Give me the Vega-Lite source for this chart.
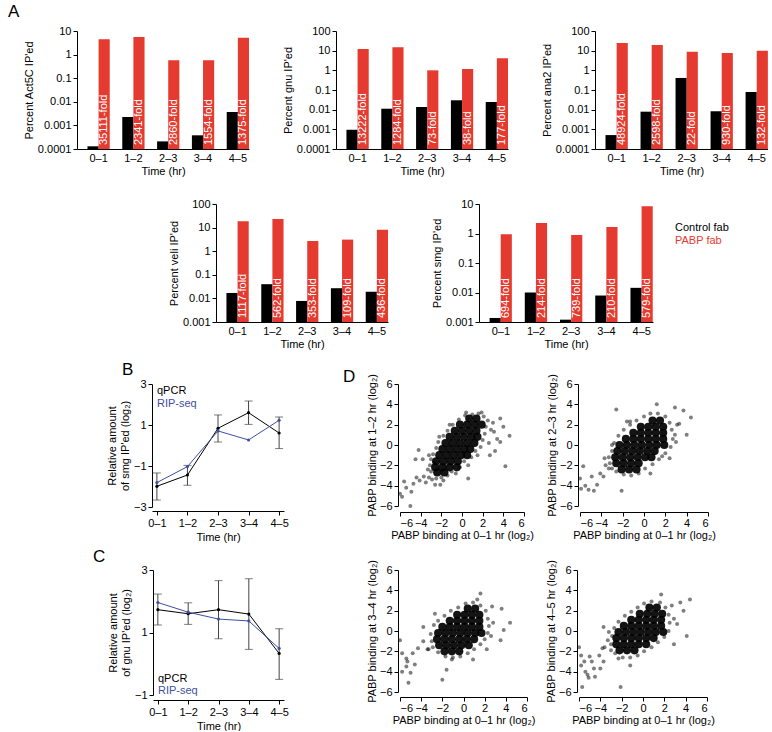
{
"$schema": "https://vega.github.io/schema/vega-lite/v6.json",
"padding": {"left": 8, "top": 3, "right": 0, "bottom": 0},
"config": {
 "view": {"stroke": null},
 "font": "Liberation Sans",
 "axis": {"grid": false, "domainColor": "#000", "tickColor": "#000", "labelColor": "#000", "titleColor": "#000", "labelFontSize": 11, "titleFontSize": 11, "titleFontWeight": "normal", "tickSize": 4, "labelPadding": 2, "titlePadding": 3, "domainWidth": 1, "tickWidth": 1, "labelFont": "Liberation Sans", "titleFont": "Liberation Sans"},
 "title": {"fontSize": 17, "fontWeight": "normal", "anchor": "start", "font": "Liberation Sans", "color": "#000", "frame": "group"},
 "legend": {"labelFont": "Liberation Sans", "labelFontSize": 11}
},
"datasets": {
 "bars": [
  {"gene":"Act5C","time":"0–1","group":"Control fab","value":0.00013,"fold":""},
  {"gene":"Act5C","time":"0–1","group":"PABP fab","value":4.5,"fold":"35111-fold"},
  {"gene":"Act5C","time":"1–2","group":"Control fab","value":0.00227,"fold":""},
  {"gene":"Act5C","time":"1–2","group":"PABP fab","value":5.6,"fold":"2341-fold"},
  {"gene":"Act5C","time":"2–3","group":"Control fab","value":0.00021,"fold":""},
  {"gene":"Act5C","time":"2–3","group":"PABP fab","value":0.58,"fold":"2860-fold"},
  {"gene":"Act5C","time":"3–4","group":"Control fab","value":0.00038,"fold":""},
  {"gene":"Act5C","time":"3–4","group":"PABP fab","value":0.58,"fold":"1554-fold"},
  {"gene":"Act5C","time":"4–5","group":"Control fab","value":0.0037,"fold":""},
  {"gene":"Act5C","time":"4–5","group":"PABP fab","value":5.2,"fold":"1375-fold"},
  {"gene":"gnu","time":"0–1","group":"Control fab","value":0.00095,"fold":""},
  {"gene":"gnu","time":"0–1","group":"PABP fab","value":12.1,"fold":"13222-fold"},
  {"gene":"gnu","time":"1–2","group":"Control fab","value":0.0112,"fold":""},
  {"gene":"gnu","time":"1–2","group":"PABP fab","value":14.8,"fold":"1284-fold"},
  {"gene":"gnu","time":"2–3","group":"Control fab","value":0.0137,"fold":""},
  {"gene":"gnu","time":"2–3","group":"PABP fab","value":1.0,"fold":"73-fold"},
  {"gene":"gnu","time":"3–4","group":"Control fab","value":0.030,"fold":""},
  {"gene":"gnu","time":"3–4","group":"PABP fab","value":1.17,"fold":"38-fold"},
  {"gene":"gnu","time":"4–5","group":"Control fab","value":0.0245,"fold":""},
  {"gene":"gnu","time":"4–5","group":"PABP fab","value":4.1,"fold":"177-fold"},
  {"gene":"ana2","time":"0–1","group":"Control fab","value":0.00051,"fold":""},
  {"gene":"ana2","time":"0–1","group":"PABP fab","value":24.5,"fold":"48924-fold"},
  {"gene":"ana2","time":"1–2","group":"Control fab","value":0.0079,"fold":""},
  {"gene":"ana2","time":"1–2","group":"PABP fab","value":19.5,"fold":"2598-fold"},
  {"gene":"ana2","time":"2–3","group":"Control fab","value":0.41,"fold":""},
  {"gene":"ana2","time":"2–3","group":"PABP fab","value":8.9,"fold":"22-fold"},
  {"gene":"ana2","time":"3–4","group":"Control fab","value":0.0083,"fold":""},
  {"gene":"ana2","time":"3–4","group":"PABP fab","value":7.6,"fold":"930-fold"},
  {"gene":"ana2","time":"4–5","group":"Control fab","value":0.079,"fold":""},
  {"gene":"ana2","time":"4–5","group":"PABP fab","value":10,"fold":"132-fold"},
  {"gene":"veli","time":"0–1","group":"Control fab","value":0.017,"fold":""},
  {"gene":"veli","time":"0–1","group":"PABP fab","value":18.6,"fold":"1117-fold"},
  {"gene":"veli","time":"1–2","group":"Control fab","value":0.040,"fold":""},
  {"gene":"veli","time":"1–2","group":"PABP fab","value":23,"fold":"562-fold"},
  {"gene":"veli","time":"2–3","group":"Control fab","value":0.0078,"fold":""},
  {"gene":"veli","time":"2–3","group":"PABP fab","value":2.7,"fold":"353-fold"},
  {"gene":"veli","time":"3–4","group":"Control fab","value":0.027,"fold":""},
  {"gene":"veli","time":"3–4","group":"PABP fab","value":3.1,"fold":"109-fold"},
  {"gene":"veli","time":"4–5","group":"Control fab","value":0.019,"fold":""},
  {"gene":"veli","time":"4–5","group":"PABP fab","value":8.1,"fold":"436-fold"},
  {"gene":"smg","time":"0–1","group":"Control fab","value":0.00137,"fold":""},
  {"gene":"smg","time":"0–1","group":"PABP fab","value":0.94,"fold":"694-fold"},
  {"gene":"smg","time":"1–2","group":"Control fab","value":0.010,"fold":""},
  {"gene":"smg","time":"1–2","group":"PABP fab","value":2.28,"fold":"214-fold"},
  {"gene":"smg","time":"2–3","group":"Control fab","value":0.0012,"fold":""},
  {"gene":"smg","time":"2–3","group":"PABP fab","value":0.89,"fold":"739-fold"},
  {"gene":"smg","time":"3–4","group":"Control fab","value":0.0079,"fold":""},
  {"gene":"smg","time":"3–4","group":"PABP fab","value":1.66,"fold":"210-fold"},
  {"gene":"smg","time":"4–5","group":"Control fab","value":0.0144,"fold":""},
  {"gene":"smg","time":"4–5","group":"PABP fab","value":8.4,"fold":"579-fold"}
 ],
 "lines": [
  {"panel":"B","method":"qPCR","time":"0–1","mean":-1.99,"lo":-2.66,"hi":-1.34},
  {"panel":"B","method":"qPCR","time":"1–2","mean":-1.44,"lo":-1.94,"hi":-0.97},
  {"panel":"B","method":"qPCR","time":"2–3","mean":0.84,"lo":0.17,"hi":1.49},
  {"panel":"B","method":"qPCR","time":"3–4","mean":1.60,"lo":1.03,"hi":2.17},
  {"panel":"B","method":"qPCR","time":"4–5","mean":0.61,"lo":-0.15,"hi":1.39},
  {"panel":"B","method":"RIP-seq","time":"0–1","mean":-1.81},
  {"panel":"B","method":"RIP-seq","time":"1–2","mean":-1.03},
  {"panel":"B","method":"RIP-seq","time":"2–3","mean":0.71},
  {"panel":"B","method":"RIP-seq","time":"3–4","mean":0.27},
  {"panel":"B","method":"RIP-seq","time":"4–5","mean":1.23},
  {"panel":"C","method":"qPCR","time":"0–1","mean":1.73,"lo":1.24,"hi":2.23},
  {"panel":"C","method":"qPCR","time":"1–2","mean":1.60,"lo":1.26,"hi":1.95},
  {"panel":"C","method":"qPCR","time":"2–3","mean":1.73,"lo":0.80,"hi":2.66},
  {"panel":"C","method":"qPCR","time":"3–4","mean":1.59,"lo":0.46,"hi":2.72},
  {"panel":"C","method":"qPCR","time":"4–5","mean":0.33,"lo":-0.50,"hi":1.12},
  {"panel":"C","method":"RIP-seq","time":"0–1","mean":1.96},
  {"panel":"C","method":"RIP-seq","time":"1–2","mean":1.65},
  {"panel":"C","method":"RIP-seq","time":"2–3","mean":1.43},
  {"panel":"C","method":"RIP-seq","time":"3–4","mean":1.37},
  {"panel":"C","method":"RIP-seq","time":"4–5","mean":0.49}
 ],
 "stats": [
  {"panel":"12","n":"n = 5813","rs":"rₛ = 0.75","p":"p <10⁻¹⁵"},
  {"panel":"23","n":"n = 5813","rs":"rₛ = 0.59","p":"p <10⁻¹⁵"},
  {"panel":"34","n":"n = 5813","rs":"rₛ = 0.44","p":"p <10⁻¹⁵"},
  {"panel":"45","n":"n = 5813","rs":"rₛ = 0.47","p":"p <10⁻¹⁵"}
 ],
 "d12": [
  {"x":0.7,"y":2.6,"k":"c"},{"x":1.4,"y":2.6,"k":"c"},
  {"x":-0.2,"y":2.0,"k":"c"},{"x":0.5,"y":2.0,"k":"c"},{"x":1.2,"y":2.0,"k":"c"},{"x":1.9,"y":2.0,"k":"c"},
  {"x":-0.7,"y":1.4,"k":"c"},{"x":0.0,"y":1.4,"k":"c"},{"x":0.7,"y":1.4,"k":"c"},{"x":1.4,"y":1.4,"k":"c"},
  {"x":-1.2,"y":0.8,"k":"c"},{"x":-0.5,"y":0.8,"k":"c"},{"x":0.2,"y":0.8,"k":"c"},{"x":0.9,"y":0.8,"k":"c"},{"x":1.5,"y":0.8,"k":"c"},
  {"x":-1.6,"y":0.2,"k":"c"},{"x":-0.9,"y":0.2,"k":"c"},{"x":-0.2,"y":0.2,"k":"c"},{"x":0.5,"y":0.2,"k":"c"},{"x":1.2,"y":0.2,"k":"c"},
  {"x":-1.9,"y":-0.4,"k":"c"},{"x":-1.2,"y":-0.4,"k":"c"},{"x":-0.5,"y":-0.4,"k":"c"},{"x":0.2,"y":-0.4,"k":"c"},{"x":0.8,"y":-0.4,"k":"c"},
  {"x":-2.2,"y":-1.0,"k":"c"},{"x":-1.5,"y":-1.0,"k":"c"},{"x":-0.8,"y":-1.0,"k":"c"},{"x":-0.1,"y":-1.0,"k":"c"},{"x":0.5,"y":-1.0,"k":"c"},
  {"x":-2.5,"y":-1.6,"k":"c"},{"x":-1.8,"y":-1.6,"k":"c"},{"x":-1.1,"y":-1.6,"k":"c"},{"x":-0.4,"y":-1.6,"k":"c"},
  {"x":-2.6,"y":-2.2,"k":"c"},{"x":-1.9,"y":-2.2,"k":"c"},{"x":-1.2,"y":-2.2,"k":"c"},{"x":-0.5,"y":-2.2,"k":"c"},
  {"x":-2.4,"y":-2.7,"k":"c"},{"x":-1.7,"y":-2.7,"k":"c"},
  {"x":-3.1,"y":-2.0,"k":"s"},{"x":-3.0,"y":-2.6,"k":"s"},{"x":-3.2,"y":-3.2,"k":"s"},{"x":-2.9,"y":-3.4,"k":"s"},{"x":-2.5,"y":-3.3,"k":"s"},
  {"x":-2.0,"y":-3.2,"k":"s"},{"x":-1.4,"y":-3.0,"k":"s"},{"x":-1.0,"y":-2.6,"k":"s"},{"x":-0.2,"y":-2.2,"k":"s"},{"x":0.2,"y":-1.6,"k":"s"},
  {"x":0.9,"y":-1.2,"k":"s"},{"x":1.3,"y":-0.6,"k":"s"},{"x":1.8,"y":-0.2,"k":"s"},{"x":2.0,"y":0.5,"k":"s"},{"x":2.2,"y":1.1,"k":"s"},
  {"x":2.3,"y":1.8,"k":"s"},{"x":2.5,"y":2.4,"k":"s"},{"x":2.1,"y":2.8,"k":"s"},{"x":1.6,"y":3.1,"k":"s"},{"x":1.0,"y":3.0,"k":"s"},
  {"x":0.3,"y":2.9,"k":"s"},{"x":-0.3,"y":2.5,"k":"s"},{"x":-0.9,"y":2.0,"k":"s"},{"x":-1.4,"y":1.4,"k":"s"},{"x":-1.8,"y":0.9,"k":"s"},
  {"x":-2.3,"y":0.3,"k":"s"},{"x":-2.5,"y":-0.3,"k":"s"},{"x":-2.8,"y":-0.9,"k":"s"},{"x":-3.0,"y":-1.4,"k":"s"},{"x":-2.2,"y":0.8,"k":"s"},
  {"x":-1.2,"y":2.0,"k":"s"},{"x":0.4,"y":3.2,"k":"s"},{"x":2.8,"y":1.5,"k":"s"},{"x":2.6,"y":0.2,"k":"s"},{"x":1.5,"y":-1.0,"k":"s"},
  {"x":0.6,"y":-2.0,"k":"s"},{"x":-0.6,"y":-2.8,"k":"s"},{"x":-1.8,"y":-3.5,"k":"s"},{"x":-2.7,"y":-1.7,"k":"s"},{"x":3.0,"y":2.2,"k":"s"},
  {"x":-6.0,"y":-4.8,"k":"s"},{"x":-5.8,"y":-5.1,"k":"s"},{"x":-5.0,"y":-6.0,"k":"s"},{"x":-5.4,"y":-4.2,"k":"s"},{"x":-4.7,"y":-3.8,"k":"s"},
  {"x":-4.4,"y":-3.2,"k":"s"},{"x":-4.2,"y":-0.5,"k":"s"},{"x":-4.5,"y":-1.4,"k":"s"},{"x":-3.8,"y":-1.4,"k":"s"},{"x":-4.1,"y":-3.5,"k":"s"},
  {"x":-3.7,"y":-3.1,"k":"s"},{"x":-3.5,"y":-3.7,"k":"s"},{"x":-3.3,"y":-2.4,"k":"s"},{"x":-2.6,"y":-3.9,"k":"s"},{"x":-2.1,"y":-3.9,"k":"s"},
  {"x":0.6,"y":-3.3,"k":"s"},{"x":4.2,"y":-2.1,"k":"s"},{"x":4.6,"y":0.9,"k":"s"},{"x":4.0,"y":1.8,"k":"s"},{"x":3.7,"y":2.6,"k":"s"},
  {"x":1.9,"y":3.2,"k":"s"},{"x":3.4,"y":0.6,"k":"s"},{"x":3.2,"y":-0.6,"k":"s"},{"x":3.7,"y":0.3,"k":"s"},{"x":2.7,"y":-1.0,"k":"s"},
  {"x":3.1,"y":1.3,"k":"s"},{"x":-5.6,"y":-3.6,"k":"s"},{"x":-4.9,"y":-4.6,"k":"s"},{"x":-3.2,"y":-1.0,"k":"s"}
 ],
 "d23": [
  {"x":0.8,"y":2.4,"k":"c"},{"x":1.5,"y":2.4,"k":"c"},
  {"x":-0.3,"y":1.8,"k":"c"},{"x":0.4,"y":1.8,"k":"c"},{"x":1.1,"y":1.8,"k":"c"},{"x":1.8,"y":1.8,"k":"c"},
  {"x":-1.0,"y":1.2,"k":"c"},{"x":-0.3,"y":1.2,"k":"c"},{"x":0.4,"y":1.2,"k":"c"},{"x":1.1,"y":1.2,"k":"c"},{"x":1.8,"y":1.2,"k":"c"},
  {"x":-1.7,"y":0.6,"k":"c"},{"x":-1.0,"y":0.6,"k":"c"},{"x":-0.3,"y":0.6,"k":"c"},{"x":0.4,"y":0.6,"k":"c"},{"x":1.1,"y":0.6,"k":"c"},{"x":1.8,"y":0.6,"k":"c"},
  {"x":-2.3,"y":0.0,"k":"c"},{"x":-1.6,"y":0.0,"k":"c"},{"x":-0.9,"y":0.0,"k":"c"},{"x":-0.2,"y":0.0,"k":"c"},{"x":0.5,"y":0.0,"k":"c"},{"x":1.2,"y":0.0,"k":"c"},{"x":1.9,"y":0.0,"k":"c"},
  {"x":-2.5,"y":-0.6,"k":"c"},{"x":-1.8,"y":-0.6,"k":"c"},{"x":-1.1,"y":-0.6,"k":"c"},{"x":-0.4,"y":-0.6,"k":"c"},{"x":0.3,"y":-0.6,"k":"c"},{"x":1.0,"y":-0.6,"k":"c"},
  {"x":-2.7,"y":-1.2,"k":"c"},{"x":-2.0,"y":-1.2,"k":"c"},{"x":-1.3,"y":-1.2,"k":"c"},{"x":-0.6,"y":-1.2,"k":"c"},{"x":0.1,"y":-1.2,"k":"c"},{"x":0.7,"y":-1.2,"k":"c"},
  {"x":-2.6,"y":-1.8,"k":"c"},{"x":-1.9,"y":-1.8,"k":"c"},{"x":-1.2,"y":-1.8,"k":"c"},{"x":-0.5,"y":-1.8,"k":"c"},
  {"x":-2.1,"y":-2.4,"k":"c"},{"x":-1.4,"y":-2.4,"k":"c"},{"x":-0.7,"y":-2.4,"k":"c"},
  {"x":-3.2,"y":-1.8,"k":"s"},{"x":-3.3,"y":-1.2,"k":"s"},{"x":-3.0,"y":-0.6,"k":"s"},{"x":-2.8,"y":0.2,"k":"s"},{"x":-2.4,"y":0.9,"k":"s"},
  {"x":-1.9,"y":1.5,"k":"s"},{"x":-1.3,"y":2.0,"k":"s"},{"x":-0.7,"y":2.4,"k":"s"},{"x":0.0,"y":2.8,"k":"s"},{"x":0.6,"y":3.1,"k":"s"},
  {"x":1.3,"y":3.1,"k":"s"},{"x":2.0,"y":2.8,"k":"s"},{"x":2.4,"y":2.2,"k":"s"},{"x":2.6,"y":1.5,"k":"s"},{"x":2.7,"y":0.6,"k":"s"},
  {"x":2.5,"y":-0.2,"k":"s"},{"x":2.0,"y":-0.8,"k":"s"},{"x":1.4,"y":-1.4,"k":"s"},{"x":0.8,"y":-1.9,"k":"s"},{"x":0.1,"y":-2.3,"k":"s"},
  {"x":-0.5,"y":-2.8,"k":"s"},{"x":-1.2,"y":-3.0,"k":"s"},{"x":-1.9,"y":-2.9,"k":"s"},{"x":-2.6,"y":-2.6,"k":"s"},{"x":-3.0,"y":-2.3,"k":"s"},
  {"x":2.9,"y":1.0,"k":"s"},{"x":-1.6,"y":2.3,"k":"s"},{"x":3.1,"y":2.0,"k":"s"},{"x":-3.6,"y":-2.0,"k":"s"},{"x":1.7,"y":-1.1,"k":"s"},
  {"x":-6.0,"y":-3.3,"k":"s"},{"x":-5.7,"y":-2.1,"k":"s"},{"x":-5.5,"y":-4.0,"k":"s"},{"x":-5.2,"y":-4.4,"k":"s"},{"x":-4.7,"y":-4.5,"k":"s"},
  {"x":-4.9,"y":-3.1,"k":"s"},{"x":-4.4,"y":-3.9,"k":"s"},{"x":-4.1,"y":-2.8,"k":"s"},{"x":-3.8,"y":-3.1,"k":"s"},{"x":-3.3,"y":-2.3,"k":"s"},
  {"x":-3.7,"y":-1.3,"k":"s"},{"x":-3.0,"y":0.0,"k":"s"},{"x":-2.6,"y":3.5,"k":"s"},{"x":-2.1,"y":-4.5,"k":"s"},{"x":-1.3,"y":2.3,"k":"s"},
  {"x":1.2,"y":4.0,"k":"s"},{"x":2.9,"y":3.7,"k":"s"},{"x":3.7,"y":3.4,"k":"s"},{"x":4.4,"y":2.7,"k":"s"},{"x":4.0,"y":1.0,"k":"s"},
  {"x":3.3,"y":2.1,"k":"s"},{"x":2.4,"y":-1.3,"k":"s"},{"x":0.6,"y":-2.8,"k":"s"},{"x":3.0,"y":0.3,"k":"s"},{"x":-5.9,"y":-4.3,"k":"s"}
 ],
 "d34": [
  {"x":0.4,"y":2.2,"k":"c"},{"x":1.1,"y":2.2,"k":"c"},
  {"x":-0.6,"y":1.6,"k":"c"},{"x":0.1,"y":1.6,"k":"c"},{"x":0.8,"y":1.6,"k":"c"},{"x":1.5,"y":1.6,"k":"c"},
  {"x":-1.3,"y":1.0,"k":"c"},{"x":-0.6,"y":1.0,"k":"c"},{"x":0.1,"y":1.0,"k":"c"},{"x":0.8,"y":1.0,"k":"c"},{"x":1.5,"y":1.0,"k":"c"},
  {"x":-2.0,"y":0.4,"k":"c"},{"x":-1.3,"y":0.4,"k":"c"},{"x":-0.6,"y":0.4,"k":"c"},{"x":0.1,"y":0.4,"k":"c"},{"x":0.8,"y":0.4,"k":"c"},{"x":1.5,"y":0.4,"k":"c"},
  {"x":-2.4,"y":-0.2,"k":"c"},{"x":-1.7,"y":-0.2,"k":"c"},{"x":-1.0,"y":-0.2,"k":"c"},{"x":-0.3,"y":-0.2,"k":"c"},{"x":0.4,"y":-0.2,"k":"c"},{"x":1.1,"y":-0.2,"k":"c"},{"x":1.7,"y":-0.2,"k":"c"},
  {"x":-2.5,"y":-0.8,"k":"c"},{"x":-1.8,"y":-0.8,"k":"c"},{"x":-1.1,"y":-0.8,"k":"c"},{"x":-0.4,"y":-0.8,"k":"c"},{"x":0.3,"y":-0.8,"k":"c"},{"x":1.0,"y":-0.8,"k":"c"},
  {"x":-2.3,"y":-1.4,"k":"c"},{"x":-1.6,"y":-1.4,"k":"c"},{"x":-0.9,"y":-1.4,"k":"c"},{"x":-0.2,"y":-1.4,"k":"c"},{"x":0.5,"y":-1.4,"k":"c"},
  {"x":-1.8,"y":-2.0,"k":"c"},{"x":-1.1,"y":-2.0,"k":"c"},{"x":-0.4,"y":-2.0,"k":"c"},
  {"x":-3.0,"y":-1.0,"k":"s"},{"x":-3.1,"y":-0.3,"k":"s"},{"x":-2.8,"y":0.6,"k":"s"},{"x":-2.4,"y":1.0,"k":"s"},{"x":-1.8,"y":1.5,"k":"s"},
  {"x":-1.2,"y":2.0,"k":"s"},{"x":-0.5,"y":2.3,"k":"s"},{"x":0.2,"y":2.7,"k":"s"},{"x":0.9,"y":2.8,"k":"s"},{"x":1.6,"y":2.5,"k":"s"},
  {"x":2.1,"y":2.0,"k":"s"},{"x":2.3,"y":1.2,"k":"s"},{"x":2.4,"y":0.5,"k":"s"},{"x":2.3,"y":-0.2,"k":"s"},{"x":2.0,"y":-0.8,"k":"s"},
  {"x":1.6,"y":-1.3,"k":"s"},{"x":1.0,"y":-1.8,"k":"s"},{"x":0.4,"y":-2.2,"k":"s"},{"x":-0.3,"y":-2.5,"k":"s"},{"x":-1.0,"y":-2.6,"k":"s"},
  {"x":-1.7,"y":-2.5,"k":"s"},{"x":-2.4,"y":-2.1,"k":"s"},{"x":-2.9,"y":-1.6,"k":"s"},{"x":2.8,"y":0.8,"k":"s"},{"x":-3.4,"y":-1.8,"k":"s"},
  {"x":1.3,"y":3.1,"k":"s"},{"x":2.6,"y":-0.5,"k":"s"},
  {"x":-6.0,"y":-0.9,"k":"s"},{"x":-5.8,"y":-2.2,"k":"s"},{"x":-5.4,"y":-2.7,"k":"s"},{"x":-5.4,"y":-3.5,"k":"s"},{"x":-5.3,"y":-3.0,"k":"s"},
  {"x":-5.8,"y":-4.0,"k":"s"},{"x":-5.2,"y":-5.1,"k":"s"},{"x":-5.0,"y":-4.1,"k":"s"},{"x":-4.6,"y":-3.3,"k":"s"},{"x":-4.3,"y":-1.7,"k":"s"},
  {"x":-3.8,"y":0.4,"k":"s"},{"x":-3.8,"y":-1.0,"k":"s"},{"x":-3.3,"y":-1.8,"k":"s"},{"x":-2.7,"y":1.7,"k":"s"},{"x":-2.0,"y":-4.8,"k":"s"},
  {"x":-1.1,"y":-2.8,"k":"s"},{"x":0.9,"y":-2.8,"k":"s"},{"x":1.6,"y":3.7,"k":"s"},{"x":2.7,"y":2.4,"k":"s"},{"x":3.6,"y":2.2,"k":"s"},
  {"x":4.4,"y":0.8,"k":"s"},{"x":3.5,"y":-0.9,"k":"s"},{"x":2.2,"y":-1.8,"k":"s"},{"x":3.8,"y":0.1,"k":"s"},{"x":-1.6,"y":-3.8,"k":"s"},
  {"x":-4.8,"y":-2.2,"k":"s"}
 ],
 "d45": [
  {"x":0.6,"y":2.3,"k":"c"},{"x":1.3,"y":2.3,"k":"c"},
  {"x":-0.3,"y":1.7,"k":"c"},{"x":0.4,"y":1.7,"k":"c"},{"x":1.1,"y":1.7,"k":"c"},{"x":1.8,"y":1.7,"k":"c"},
  {"x":-1.1,"y":1.1,"k":"c"},{"x":-0.4,"y":1.1,"k":"c"},{"x":0.3,"y":1.1,"k":"c"},{"x":1.0,"y":1.1,"k":"c"},{"x":1.7,"y":1.1,"k":"c"},
  {"x":-1.8,"y":0.5,"k":"c"},{"x":-1.1,"y":0.5,"k":"c"},{"x":-0.4,"y":0.5,"k":"c"},{"x":0.3,"y":0.5,"k":"c"},{"x":1.0,"y":0.5,"k":"c"},{"x":1.7,"y":0.5,"k":"c"},
  {"x":-2.3,"y":-0.1,"k":"c"},{"x":-1.6,"y":-0.1,"k":"c"},{"x":-0.9,"y":-0.1,"k":"c"},{"x":-0.2,"y":-0.1,"k":"c"},{"x":0.5,"y":-0.1,"k":"c"},{"x":1.2,"y":-0.1,"k":"c"},{"x":1.9,"y":-0.1,"k":"c"},
  {"x":-2.5,"y":-0.7,"k":"c"},{"x":-1.8,"y":-0.7,"k":"c"},{"x":-1.1,"y":-0.7,"k":"c"},{"x":-0.4,"y":-0.7,"k":"c"},{"x":0.3,"y":-0.7,"k":"c"},{"x":1.0,"y":-0.7,"k":"c"},
  {"x":-2.5,"y":-1.3,"k":"c"},{"x":-1.8,"y":-1.3,"k":"c"},{"x":-1.1,"y":-1.3,"k":"c"},{"x":-0.4,"y":-1.3,"k":"c"},{"x":0.3,"y":-1.3,"k":"c"},
  {"x":-2.2,"y":-1.9,"k":"c"},{"x":-1.5,"y":-1.9,"k":"c"},{"x":-0.8,"y":-1.9,"k":"c"},
  {"x":-3.0,"y":-1.3,"k":"s"},{"x":-2.9,"y":-0.5,"k":"s"},{"x":-2.7,"y":0.3,"k":"s"},{"x":-2.3,"y":0.9,"k":"s"},{"x":-1.7,"y":1.5,"k":"s"},
  {"x":-1.1,"y":1.9,"k":"s"},{"x":-0.5,"y":2.3,"k":"s"},{"x":0.1,"y":2.7,"k":"s"},{"x":0.8,"y":2.9,"k":"s"},{"x":1.6,"y":2.8,"k":"s"},
  {"x":2.1,"y":2.3,"k":"s"},{"x":2.4,"y":1.6,"k":"s"},{"x":2.5,"y":0.8,"k":"s"},{"x":2.4,"y":0.0,"k":"s"},{"x":2.0,"y":-0.6,"k":"s"},
  {"x":1.4,"y":-1.1,"k":"s"},{"x":0.8,"y":-1.6,"k":"s"},{"x":0.1,"y":-2.0,"k":"s"},{"x":-0.5,"y":-2.4,"k":"s"},{"x":-1.2,"y":-2.6,"k":"s"},
  {"x":-1.9,"y":-2.6,"k":"s"},{"x":-2.6,"y":-2.2,"k":"s"},{"x":-3.0,"y":-1.9,"k":"s"},{"x":2.9,"y":1.2,"k":"s"},{"x":-3.3,"y":-0.9,"k":"s"},
  {"x":2.7,"y":2.5,"k":"s"},{"x":-3.6,"y":-1.6,"k":"s"},
  {"x":-6.0,"y":-1.6,"k":"s"},{"x":-5.8,"y":-2.4,"k":"s"},{"x":-5.8,"y":-3.4,"k":"s"},{"x":-5.7,"y":-5.5,"k":"s"},{"x":-5.4,"y":-4.0,"k":"s"},
  {"x":-5.2,"y":-4.3,"k":"s"},{"x":-5.1,"y":-4.6,"k":"s"},{"x":-5.0,"y":-2.5,"k":"s"},{"x":-4.8,"y":-3.0,"k":"s"},{"x":-4.6,"y":-3.7,"k":"s"},
  {"x":-4.5,"y":-4.5,"k":"s"},{"x":-4.1,"y":-2.4,"k":"s"},{"x":-4.0,"y":-3.7,"k":"s"},{"x":-3.7,"y":-3.0,"k":"s"},{"x":-3.8,"y":-1.7,"k":"s"},
  {"x":-3.7,"y":0.4,"k":"s"},{"x":-3.2,"y":-0.1,"k":"s"},{"x":-2.3,"y":-2.7,"k":"s"},{"x":-2.1,"y":-5.5,"k":"s"},{"x":-1.2,"y":-3.4,"k":"s"},
  {"x":1.7,"y":3.6,"k":"s"},{"x":3.5,"y":2.8,"k":"s"},{"x":4.4,"y":3.1,"k":"s"},{"x":3.8,"y":2.0,"k":"s"},{"x":4.1,"y":-0.5,"k":"s"},
  {"x":3.2,"y":0.7,"k":"s"},{"x":2.9,"y":-1.3,"k":"s"},{"x":-5.5,"y":-3.0,"k":"s"}
 ]
},
"resolve": {"scale": {"color": "independent"}, "legend": {"color": "independent"}},
"spacing": 22,
"vconcat": [
 {
  "hconcat": [
   {
    "width": 172, "height": 118,
    "title": {"text": "A", "dx": -69},
    "data": {"name": "bars"},
    "transform": [{"filter": "datum.gene === 'Act5C'"}],
    "encoding": {
     "x": {"field": "time", "type": "nominal", "sort": ["0–1","1–2","2–3","3–4","4–5"], "scale": {"paddingInner": 0.36, "paddingOuter": 0.15, "align": 1}, "axis": {"title": "Time (hr)", "labelAngle": 0, "ticks": false, "labelPadding": 3, "titlePadding": 2}},
     "xOffset": {"field": "group", "type": "nominal", "sort": ["Control fab", "PABP fab"]}
    },
    "layer": [
     {"mark": {"type": "bar"}, "encoding": {
       "y": {"field": "value", "type": "quantitative", "scale": {"type": "log", "domain": [0.0001, 10], "nice": false}, "axis": {"title": "Percent Act5C IP'ed", "values": [0.0001, 0.001, 0.01, 0.1, 1, 10], "format": "~g"}},
       "y2": {"datum": 0.0001},
       "color": {"field": "group", "type": "nominal", "scale": {"domain": ["Control fab", "PABP fab"], "range": ["#000000", "#e53a2f"]}, "legend": null}}},
     {"transform": [{"filter": "datum.group === 'PABP fab'"}], "mark": {"type": "text", "angle": 270, "align": "left", "baseline": "middle", "dx": 4, "color": "#ffffff", "fontSize": 11}, "encoding": {"y": {"datum": 0.0001}, "text": {"field": "fold", "type": "nominal"}}}
    ]
   },
   {
    "width": 172, "height": 118,
    "data": {"name": "bars"},
    "transform": [{"filter": "datum.gene === 'gnu'"}],
    "encoding": {
     "x": {"field": "time", "type": "nominal", "sort": ["0–1","1–2","2–3","3–4","4–5"], "scale": {"paddingInner": 0.36, "paddingOuter": 0.15, "align": 1}, "axis": {"title": "Time (hr)", "labelAngle": 0, "ticks": false, "labelPadding": 3, "titlePadding": 2}},
     "xOffset": {"field": "group", "type": "nominal", "sort": ["Control fab", "PABP fab"]}
    },
    "layer": [
     {"mark": {"type": "bar"}, "encoding": {
       "y": {"field": "value", "type": "quantitative", "scale": {"type": "log", "domain": [0.0001, 100], "nice": false}, "axis": {"title": "Percent gnu IP'ed", "values": [0.0001, 0.001, 0.01, 0.1, 1, 10, 100], "format": "~g"}},
       "y2": {"datum": 0.0001},
       "color": {"field": "group", "type": "nominal", "scale": {"domain": ["Control fab", "PABP fab"], "range": ["#000000", "#e53a2f"]}, "legend": null}}},
     {"transform": [{"filter": "datum.group === 'PABP fab'"}], "mark": {"type": "text", "angle": 270, "align": "left", "baseline": "middle", "dx": 4, "color": "#ffffff", "fontSize": 11}, "encoding": {"y": {"datum": 0.0001}, "text": {"field": "fold", "type": "nominal"}}}
    ]
   },
   {
    "width": 173, "height": 118,
    "data": {"name": "bars"},
    "transform": [{"filter": "datum.gene === 'ana2'"}],
    "encoding": {
     "x": {"field": "time", "type": "nominal", "sort": ["0–1","1–2","2–3","3–4","4–5"], "scale": {"paddingInner": 0.36, "paddingOuter": 0.15, "align": 1}, "axis": {"title": "Time (hr)", "labelAngle": 0, "ticks": false, "labelPadding": 3, "titlePadding": 2}},
     "xOffset": {"field": "group", "type": "nominal", "sort": ["Control fab", "PABP fab"]}
    },
    "layer": [
     {"mark": {"type": "bar"}, "encoding": {
       "y": {"field": "value", "type": "quantitative", "scale": {"type": "log", "domain": [0.0001, 100], "nice": false}, "axis": {"title": "Percent ana2 IP'ed", "values": [0.0001, 0.001, 0.01, 0.1, 1, 10, 100], "format": "~g"}},
       "y2": {"datum": 0.0001},
       "color": {"field": "group", "type": "nominal", "scale": {"domain": ["Control fab", "PABP fab"], "range": ["#000000", "#e53a2f"]}, "legend": null}}},
     {"transform": [{"filter": "datum.group === 'PABP fab'"}], "mark": {"type": "text", "angle": 270, "align": "left", "baseline": "middle", "dx": 4, "color": "#ffffff", "fontSize": 11}, "encoding": {"y": {"datum": 0.0001}, "text": {"field": "fold", "type": "nominal"}}}
    ]
   }
  ],
  "spacing": 87, "bounds": "flush",
  "resolve": {"scale": {"color": "independent"}, "legend": {"color": "independent"}}
 },
 {
  "vconcat": [
   {
    "hconcat": [
     {"width": 48, "height": 1, "data": {"values": []}, "mark": "point"},
     {
      "width": 172, "height": 118,
      "data": {"name": "bars"},
      "transform": [{"filter": "datum.gene === 'veli'"}],
      "encoding": {
       "x": {"field": "time", "type": "nominal", "sort": ["0–1","1–2","2–3","3–4","4–5"], "scale": {"paddingInner": 0.36, "paddingOuter": 0.15, "align": 1}, "axis": {"title": "Time (hr)", "labelAngle": 0, "ticks": false, "labelPadding": 3, "titlePadding": 2}},
       "xOffset": {"field": "group", "type": "nominal", "sort": ["Control fab", "PABP fab"]}
      },
      "layer": [
       {"mark": {"type": "bar"}, "encoding": {
         "y": {"field": "value", "type": "quantitative", "scale": {"type": "log", "domain": [0.001, 100], "nice": false}, "axis": {"title": "Percent veli IP'ed", "values": [0.001, 0.01, 0.1, 1, 10, 100], "format": "~g"}},
         "y2": {"datum": 0.001},
         "color": {"field": "group", "type": "nominal", "scale": {"domain": ["Control fab", "PABP fab"], "range": ["#000000", "#e53a2f"]}, "legend": null}}},
       {"transform": [{"filter": "datum.group === 'PABP fab'"}], "mark": {"type": "text", "angle": 270, "align": "left", "baseline": "middle", "dx": 4, "color": "#ffffff", "fontSize": 11}, "encoding": {"y": {"datum": 0.001}, "text": {"field": "fold", "type": "nominal"}}}
      ]
     },
     {
      "width": 174, "height": 118,
      "data": {"name": "bars"},
      "transform": [{"filter": "datum.gene === 'smg'"}],
      "encoding": {
       "x": {"field": "time", "type": "nominal", "sort": ["0–1","1–2","2–3","3–4","4–5"], "scale": {"paddingInner": 0.36, "paddingOuter": 0.15, "align": 1}, "axis": {"title": "Time (hr)", "labelAngle": 0, "ticks": false, "labelPadding": 3, "titlePadding": 2}},
       "xOffset": {"field": "group", "type": "nominal", "sort": ["Control fab", "PABP fab"]}
      },
      "layer": [
       {"mark": {"type": "bar"}, "encoding": {
         "y": {"field": "value", "type": "quantitative", "scale": {"type": "log", "domain": [0.001, 10], "nice": false}, "axis": {"title": "Percent smg IP'ed", "values": [0.001, 0.01, 0.1, 1, 10], "format": "~g"}},
         "y2": {"datum": 0.001},
         "color": {"field": "group", "type": "nominal", "scale": {"domain": ["Control fab", "PABP fab"], "range": ["#000000", "#e53a2f"]},
           "legend": {"title": null, "orient": "none", "legendX": 185, "legendY": 18, "padding": 0, "symbolSize": 0, "symbolStrokeWidth": 0, "symbolOpacity": 0, "labelOffset": 0, "labelFontSize": 11, "rowPadding": 1,
             "encode": {"labels": {"update": {"fill": {"signal": "datum.value === 'PABP fab' ? '#e53a2f' : '#000000'"}}}}}}}},
       {"transform": [{"filter": "datum.group === 'PABP fab'"}], "mark": {"type": "text", "angle": 270, "align": "left", "baseline": "middle", "dx": 4, "color": "#ffffff", "fontSize": 11}, "encoding": {"y": {"datum": 0.001}, "text": {"field": "fold", "type": "nominal"}}}
      ]
     }
    ],
    "spacing": 91, "bounds": "flush",
    "resolve": {"scale": {"color": "independent"}, "legend": {"color": "independent"}}
   },
   {
    "vconcat": [
     {
      "hconcat": [
       {"width": 19, "height": 1, "title": {"text": "B", "dx": 45, "offset": 5}, "data": {"values": []}, "mark": "point"},
       {
        "width": 132, "height": 123,
        "data": {"name": "lines"},
        "transform": [{"filter": "datum.panel === 'B'"}],
        "encoding": {"x": {"field": "time", "type": "ordinal", "sort": ["0–1","1–2","2–3","3–4","4–5"], "scale": {"type": "point", "padding": 0.16}, "axis": {"title": "Time (hr)", "labelAngle": 0, "offset": 4, "titlePadding": 3}}},
        "layer": [
         {"transform": [{"filter": "datum.method === 'qPCR'"}], "mark": {"type": "rule", "color": "#444444", "strokeWidth": 1}, "encoding": {"y": {"field": "lo", "type": "quantitative", "scale": {"domain": [-3, 3], "nice": false}, "title": ["Relative amount", "of smg IP'ed (log₂)"]}, "y2": {"field": "hi"}}},
         {"transform": [{"filter": "datum.method === 'qPCR'"}], "mark": {"type": "tick", "color": "#444444", "size": 8, "thickness": 1}, "encoding": {"y": {"field": "lo", "type": "quantitative", "scale": {"domain": [-3, 3], "nice": false}, "title": ["Relative amount", "of smg IP'ed (log₂)"]}}},
         {"transform": [{"filter": "datum.method === 'qPCR'"}], "mark": {"type": "tick", "color": "#444444", "size": 8, "thickness": 1}, "encoding": {"y": {"field": "hi", "type": "quantitative", "scale": {"domain": [-3, 3], "nice": false}, "title": ["Relative amount", "of smg IP'ed (log₂)"]}}},
         {"mark": {"type": "line", "strokeWidth": 1, "point": {"filled": true, "size": 10}}, "encoding": {
           "y": {"field": "mean", "type": "quantitative", "scale": {"domain": [-3, 3], "nice": false}, "title": ["Relative amount", "of smg IP'ed (log₂)"], "axis": {"values": [-3, -2, -1, 0, 1, 2, 3], "titlePadding": 3}},
           "color": {"field": "method", "type": "nominal", "scale": {"domain": ["qPCR", "RIP-seq"], "range": ["#000000", "#3d4f9f"]},
             "legend": {"title": null, "orient": "none", "legendX": -6, "legendY": 1, "padding": 0, "symbolSize": 0, "symbolStrokeWidth": 0, "symbolOpacity": 0, "labelOffset": 0, "labelFontSize": 11, "rowPadding": 1,
               "encode": {"labels": {"update": {"fill": {"signal": "datum.value === 'RIP-seq' ? '#3d4f9f' : '#000000'"}}}}}}}}
        ]
       },
       {"width": 4, "height": 1, "data": {"values": []}, "mark": "point"},
       {
        "width": 124, "height": 122,
        "title": {"text": "D", "dx": -57, "offset": -12},
        "data": {"name": "d12"},
        "encoding": {
         "x": {"field": "x", "type": "quantitative", "scale": {"domain": [-6, 6], "nice": false}, "axis": {"title": "PABP binding at 0–1 hr (log₂)", "values": [-6, -4, -2, 0, 2, 4, 6], "offset": 6, "labelPadding": 1, "titlePadding": 1}},
         "y": {"field": "y", "type": "quantitative", "scale": {"domain": [-6, 6], "nice": false}, "axis": {"title": "PABP binding at 1–2 hr (log₂)", "values": [-6, -4, -2, 0, 2, 4, 6], "offset": 2, "titlePadding": 2}}
        },
        "layer": [
         {"transform": [{"filter": "datum.k === 's'"}], "mark": {"type": "circle", "size": 16, "opacity": 0.5, "color": "#000000"}},
         {"transform": [{"filter": "datum.k === 'c'"}], "mark": {"type": "circle", "size": 66, "opacity": 0.92, "color": "#000000"}},
         {"data": {"name": "stats"}, "transform": [{"filter": "datum.panel === '12'"}], "mark": {"type": "text", "align": "right", "fontSize": 11}, "encoding": {"x": {"datum": 6.2}, "y": {"datum": -3.25}, "text": {"field": "n"}}},
         {"data": {"name": "stats"}, "transform": [{"filter": "datum.panel === '12'"}], "mark": {"type": "text", "align": "right", "fontSize": 11}, "encoding": {"x": {"datum": 6.2}, "y": {"datum": -4.45}, "text": {"field": "rs"}}},
         {"data": {"name": "stats"}, "transform": [{"filter": "datum.panel === '12'"}], "mark": {"type": "text", "align": "right", "fontSize": 11}, "encoding": {"x": {"datum": 6.2}, "y": {"datum": -5.65}, "text": {"field": "p"}}}
        ]
       },
       {
        "width": 128, "height": 122,
        "data": {"name": "d23"},
        "encoding": {
         "x": {"field": "x", "type": "quantitative", "scale": {"domain": [-6, 6], "nice": false}, "axis": {"title": "PABP binding at 0–1 hr (log₂)", "values": [-6, -4, -2, 0, 2, 4, 6], "offset": 6, "labelPadding": 1, "titlePadding": 1}},
         "y": {"field": "y", "type": "quantitative", "scale": {"domain": [-6, 6], "nice": false}, "axis": {"title": "PABP binding at 2–3 hr (log₂)", "values": [-6, -4, -2, 0, 2, 4, 6], "offset": 2, "titlePadding": 2}}
        },
        "layer": [
         {"transform": [{"filter": "datum.k === 's'"}], "mark": {"type": "circle", "size": 16, "opacity": 0.5, "color": "#000000"}},
         {"transform": [{"filter": "datum.k === 'c'"}], "mark": {"type": "circle", "size": 66, "opacity": 0.92, "color": "#000000"}},
         {"data": {"name": "stats"}, "transform": [{"filter": "datum.panel === '23'"}], "mark": {"type": "text", "align": "right", "fontSize": 11}, "encoding": {"x": {"datum": 6.1}, "y": {"datum": -3.25}, "text": {"field": "n"}}},
         {"data": {"name": "stats"}, "transform": [{"filter": "datum.panel === '23'"}], "mark": {"type": "text", "align": "right", "fontSize": 11}, "encoding": {"x": {"datum": 6.1}, "y": {"datum": -4.45}, "text": {"field": "rs"}}},
         {"data": {"name": "stats"}, "transform": [{"filter": "datum.panel === '23'"}], "mark": {"type": "text", "align": "right", "fontSize": 11}, "encoding": {"x": {"datum": 6.1}, "y": {"datum": -5.65}, "text": {"field": "p"}}}
        ]
       }
      ],
      "spacing": 56, "bounds": "flush",
      "resolve": {"scale": {"color": "independent"}, "legend": {"color": "independent"}}
     },
     {
      "hconcat": [
       {"width": 24, "height": 1, "data": {"values": []}, "mark": "point"},
       {
        "width": 131, "height": 125,
        "title": {"text": "C", "dx": -60, "offset": -2},
        "data": {"name": "lines"},
        "transform": [{"filter": "datum.panel === 'C'"}],
        "encoding": {"x": {"field": "time", "type": "ordinal", "sort": ["0–1","1–2","2–3","3–4","4–5"], "scale": {"type": "point", "padding": 0.16}, "axis": {"title": "Time (hr)", "labelAngle": 0, "offset": 5, "titlePadding": 3}}},
        "layer": [
         {"transform": [{"filter": "datum.method === 'qPCR'"}], "mark": {"type": "rule", "color": "#444444", "strokeWidth": 1}, "encoding": {"y": {"field": "lo", "type": "quantitative", "scale": {"domain": [-1, 3], "nice": false}, "title": ["Relative amount", "of gnu IP'ed (log₂)"]}, "y2": {"field": "hi"}}},
         {"transform": [{"filter": "datum.method === 'qPCR'"}], "mark": {"type": "tick", "color": "#444444", "size": 8, "thickness": 1}, "encoding": {"y": {"field": "lo", "type": "quantitative", "scale": {"domain": [-1, 3], "nice": false}, "title": ["Relative amount", "of gnu IP'ed (log₂)"]}}},
         {"transform": [{"filter": "datum.method === 'qPCR'"}], "mark": {"type": "tick", "color": "#444444", "size": 8, "thickness": 1}, "encoding": {"y": {"field": "hi", "type": "quantitative", "scale": {"domain": [-1, 3], "nice": false}, "title": ["Relative amount", "of gnu IP'ed (log₂)"]}}},
         {"mark": {"type": "line", "strokeWidth": 1, "point": {"filled": true, "size": 10}}, "encoding": {
           "y": {"field": "mean", "type": "quantitative", "scale": {"domain": [-1, 3], "nice": false}, "title": ["Relative amount", "of gnu IP'ed (log₂)"], "axis": {"values": [-1, 0, 1, 2, 3], "titlePadding": 3}},
           "color": {"field": "method", "type": "nominal", "scale": {"domain": ["qPCR", "RIP-seq"], "range": ["#000000", "#3d4f9f"]},
             "legend": {"title": null, "orient": "none", "legendX": -6, "legendY": 103, "padding": 0, "symbolSize": 0, "symbolStrokeWidth": 0, "symbolOpacity": 0, "labelOffset": 0, "labelFontSize": 11, "rowPadding": 0,
               "encode": {"labels": {"update": {"fill": {"signal": "datum.value === 'RIP-seq' ? '#3d4f9f' : '#000000'"}}}}}}}}
        ]
       },
       {"width": 12, "height": 1, "data": {"values": []}, "mark": "point"},
       {
        "width": 127, "height": 122,
        "data": {"name": "d34"},
        "encoding": {
         "x": {"field": "x", "type": "quantitative", "scale": {"domain": [-6, 6], "nice": false}, "axis": {"title": "PABP binding at 0–1 hr (log₂)", "values": [-6, -4, -2, 0, 2, 4, 6], "offset": 5, "labelPadding": 1, "titlePadding": 1}},
         "y": {"field": "y", "type": "quantitative", "scale": {"domain": [-6, 6], "nice": false}, "axis": {"title": "PABP binding at 3–4 hr (log₂)", "values": [-6, -4, -2, 0, 2, 4, 6], "offset": 2, "titlePadding": 2}}
        },
        "layer": [
         {"transform": [{"filter": "datum.k === 's'"}], "mark": {"type": "circle", "size": 16, "opacity": 0.5, "color": "#000000"}},
         {"transform": [{"filter": "datum.k === 'c'"}], "mark": {"type": "circle", "size": 66, "opacity": 0.92, "color": "#000000"}},
         {"data": {"name": "stats"}, "transform": [{"filter": "datum.panel === '34'"}], "mark": {"type": "text", "align": "right", "fontSize": 11}, "encoding": {"x": {"datum": 6.0}, "y": {"datum": -3.15}, "text": {"field": "n"}}},
         {"data": {"name": "stats"}, "transform": [{"filter": "datum.panel === '34'"}], "mark": {"type": "text", "align": "right", "fontSize": 11}, "encoding": {"x": {"datum": 6.0}, "y": {"datum": -4.3}, "text": {"field": "rs"}}},
         {"data": {"name": "stats"}, "transform": [{"filter": "datum.panel === '34'"}], "mark": {"type": "text", "align": "right", "fontSize": 11}, "encoding": {"x": {"datum": 6.0}, "y": {"datum": -5.45}, "text": {"field": "p"}}}
        ]
       },
       {
        "width": 128, "height": 122,
        "data": {"name": "d45"},
        "encoding": {
         "x": {"field": "x", "type": "quantitative", "scale": {"domain": [-6, 6], "nice": false}, "axis": {"title": "PABP binding at 0–1 hr (log₂)", "values": [-6, -4, -2, 0, 2, 4, 6], "offset": 5, "labelPadding": 1, "titlePadding": 1}},
         "y": {"field": "y", "type": "quantitative", "scale": {"domain": [-6, 6], "nice": false}, "axis": {"title": "PABP binding at 4–5 hr (log₂)", "values": [-6, -4, -2, 0, 2, 4, 6], "offset": 2, "titlePadding": 2}}
        },
        "layer": [
         {"transform": [{"filter": "datum.k === 's'"}], "mark": {"type": "circle", "size": 16, "opacity": 0.5, "color": "#000000"}},
         {"transform": [{"filter": "datum.k === 'c'"}], "mark": {"type": "circle", "size": 66, "opacity": 0.92, "color": "#000000"}},
         {"data": {"name": "stats"}, "transform": [{"filter": "datum.panel === '45'"}], "mark": {"type": "text", "align": "right", "fontSize": 11}, "encoding": {"x": {"datum": 5.9}, "y": {"datum": -3.0}, "text": {"field": "n"}}},
         {"data": {"name": "stats"}, "transform": [{"filter": "datum.panel === '45'"}], "mark": {"type": "text", "align": "right", "fontSize": 11}, "encoding": {"x": {"datum": 5.9}, "y": {"datum": -4.2}, "text": {"field": "rs"}}},
         {"data": {"name": "stats"}, "transform": [{"filter": "datum.panel === '45'"}], "mark": {"type": "text", "align": "right", "fontSize": 11}, "encoding": {"x": {"datum": 5.9}, "y": {"datum": -5.4}, "text": {"field": "p"}}}
        ]
       }
      ],
      "spacing": 52, "bounds": "flush",
      "resolve": {"scale": {"color": "independent"}, "legend": {"color": "independent"}}
     }
    ],
    "spacing": 6,
    "resolve": {"scale": {"color": "independent"}, "legend": {"color": "independent"}}
   }
  ],
  "spacing": 12,
  "resolve": {"scale": {"color": "independent"}, "legend": {"color": "independent"}}
 }
]
}
